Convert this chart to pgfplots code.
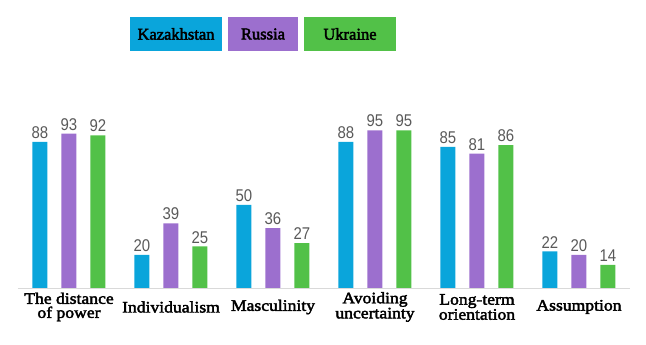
\documentclass[border=0pt]{standalone}
\usepackage{fontspec}
\setmainfont{Liberation Serif}
\setsansfont{Liberation Sans}
\newfontfamily\lblfont{Liberation Serif}[FakeBold=2.5, FakeStretch=1.1]
\newfontfamily\legfont{Liberation Serif}[FakeBold=2.5]
\newfontfamily\numfont{Liberation Sans}[FakeStretch=0.88]
\usepackage{pgfplots}
\pgfplotsset{compat=1.18}
\definecolor{kz}{HTML}{0AA5DB}
\definecolor{ru}{HTML}{9C6FCE}
\definecolor{ua}{HTML}{52C148}
\definecolor{numgray}{HTML}{595959}
\begin{document}
\begin{tikzpicture}
\useasboundingbox (-18pt,-57pt) rectangle (628pt,288pt);
\begin{axis}[
  at={(0pt,0pt)}, anchor=south west,
  width=612pt, height=199.2pt, scale only axis,
  xmin=-0.5, xmax=5.5, ymin=0, ymax=120,
  axis y line=none,
  axis x line*=bottom,
  axis line style={-, draw=black!15, line width=0.8pt},
  ybar, bar width=15pt,
  xtick={0,1,2,3,4,5},
  xticklabels={{The distance\\of power},{Individualism},{Masculinity},{Avoiding\\uncertainty},{Long-term\\orientation},{Assumption}},
  xticklabel style={font=\lblfont\fontsize{16}{14}\selectfont, align=center, anchor=center, yshift=-19pt},
  major tick length=0pt,
  clip=false,
  nodes near coords,
  nodes near coords style={font=\numfont\fontsize{17}{17}\selectfont, text=numgray, inner sep=1pt, yshift=2pt, /pgf/number format/assume math mode=true},
]
\addplot[fill=kz, draw=none, bar shift=-29pt] coordinates {(0,88) (1,20) (2,50) (3,88) (4,85) (5,22)};
\addplot[fill=ru, draw=none, bar shift=0pt] coordinates {(0,93) (1,39) (2,36) (3,95) (4,81) (5,20)};
\addplot[fill=ua, draw=none, bar shift=29pt] coordinates {(0,92) (1,25) (2,27) (3,95) (4,86) (5,14)};
\end{axis}
\node[fill=kz, minimum width=92pt, minimum height=34pt, inner sep=0pt, font=\legfont\fontsize{16.5}{16}\selectfont] at (158pt,254pt) {Kazakhstan};
\node[fill=ru, minimum width=70pt, minimum height=34pt, inner sep=0pt, font=\legfont\fontsize{16.5}{16}\selectfont] at (245pt,254pt) {Russia};
\node[fill=ua, minimum width=92pt, minimum height=34pt, inner sep=0pt, font=\legfont\fontsize{16.5}{16}\selectfont] at (332pt,254pt) {Ukraine};
\end{tikzpicture}
\end{document}
